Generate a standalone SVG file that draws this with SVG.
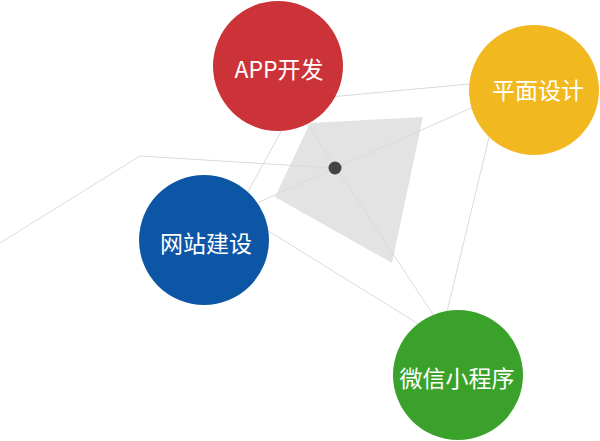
<svg xmlns="http://www.w3.org/2000/svg" width="600" height="441" viewBox="0 0 600 441">
<style>
.ln{fill:none;stroke:#dadada;stroke-width:1}
.lb{fill:#fff;font-family:"Noto Sans CJK SC","Noto Sans",sans-serif;font-size:23px;text-anchor:middle}
</style>
<rect width="600" height="441" fill="#fff"/>
<polygon points="310,123 423,117 392,263 275,197" fill="#e3e3e3"/>
<g id="connectors">
<polyline class="ln" points="0,243 140,156 335,168"/>
<line class="ln" x1="250" y1="206" x2="480" y2="104"/>
<line class="ln" x1="300" y1="113" x2="436" y2="319"/>
<line class="ln" x1="330" y1="97" x2="480" y2="83"/>
<line class="ln" x1="287" y1="121" x2="246" y2="195"/>
<line class="ln" x1="262" y1="227" x2="425" y2="328"/>
<line class="ln" x1="492" y1="125" x2="445" y2="320"/>
</g>
<circle cx="335" cy="168" r="6.5" fill="#444"/>
<g id="node-app"><circle cx="278" cy="66" r="65" fill="#cc3339"/><text class="lb" x="279" y="78">APP开发</text></g>
<g id="node-design"><circle cx="534" cy="90" r="65" fill="#f2b81f"/><text class="lb" x="538" y="99">平面设计</text></g>
<g id="node-web"><circle cx="204" cy="240" r="65" fill="#0d56a6"/><text class="lb" x="206" y="252">网站建设</text></g>
<g id="node-mini"><circle cx="458" cy="375" r="65" fill="#3aa22b"/><text class="lb" x="457" y="387">微信小程序</text></g>
</svg>
